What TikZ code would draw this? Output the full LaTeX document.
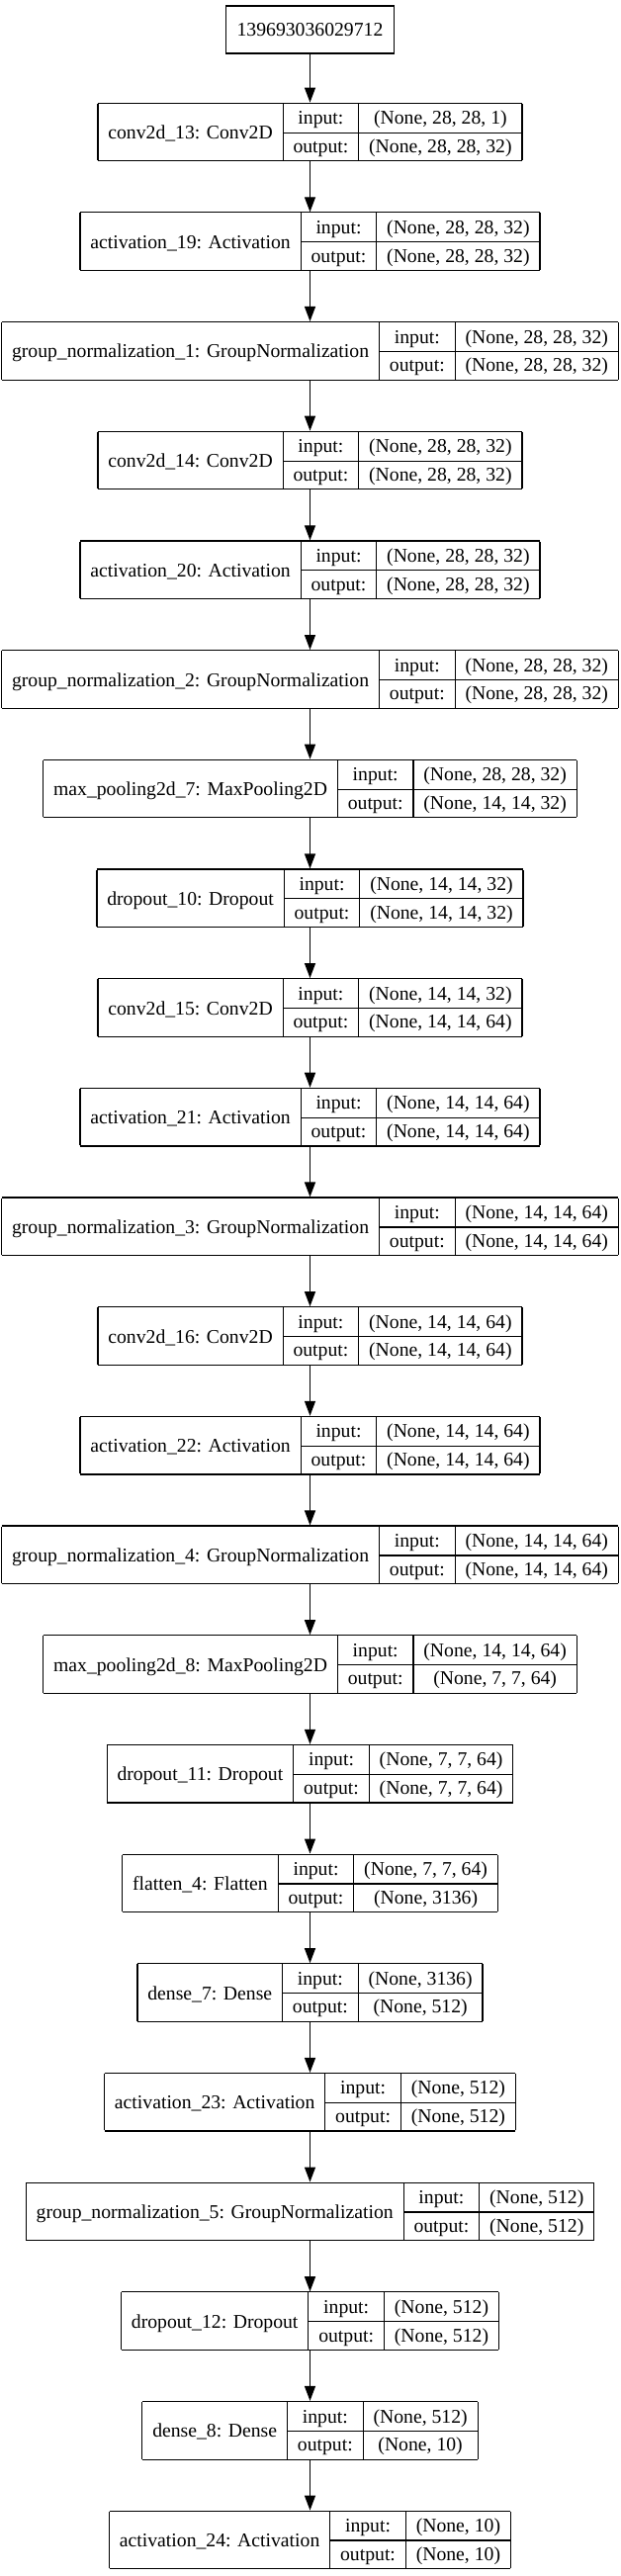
\documentclass[tikz,border=0pt]{standalone}
\usepackage{fontspec}
\setmainfont{Liberation Serif}
\usetikzlibrary{arrows.meta}
\newcommand\lfont{\fontsize{19.7pt}{23pt}\selectfont}
\newcommand\rowstrut{\rule[-7.8pt]{0pt}{28.7pt}}
\newcommand\krec[3]{%
  \setlength\arrayrulewidth{1.2pt}\setlength\tabcolsep{10.4pt}\renewcommand\arraystretch{0.5}%
  \begin{tabular}{|c|c|c|}\hline
    \smash{\raisebox{-14.9pt}{#1}}\rowstrut & input: & #2\\ \cline{2-3}
    \rowstrut & output: & #3\\ \hline
  \end{tabular}}
\newcommand\yp[1]{{-(133.5+110.68*(#1-1))*1pt}}
\tikzset{
  rec/.style={inner sep=0pt, outer sep=0pt, font=\lfont, text=black},
  inbox/.style={draw=black, line width=1.2pt, inner xsep=11pt, inner ysep=0pt, minimum height=48pt, font=\lfont, text=black},
  arr/.style={draw=black, line width=1.3pt, -{Triangle[length=15pt,width=11pt]}}
}
\begin{document}
\begin{tikzpicture}
\useasboundingbox (0,0) rectangle (627pt,-2605pt);
\fill[white] (0,0) rectangle (627pt,-2605pt);
\node[inbox] (inp) at (313.5pt,-30pt) {139693036029712};
\node[rec] (l1) at (313.5pt,\yp{1}) {\krec{conv2d\_13: Conv2D}{(None, 28, 28, 1)}{(None, 28, 28, 32)}};
\node[rec] (l2) at (313.5pt,\yp{2}) {\krec{activation\_19: Activation}{(None, 28, 28, 32)}{(None, 28, 28, 32)}};
\node[rec] (l3) at (313.5pt,\yp{3}) {\krec{group\_normalization\_1: GroupNormalization}{(None, 28, 28, 32)}{(None, 28, 28, 32)}};
\node[rec] (l4) at (313.5pt,\yp{4}) {\krec{conv2d\_14: Conv2D}{(None, 28, 28, 32)}{(None, 28, 28, 32)}};
\node[rec] (l5) at (313.5pt,\yp{5}) {\krec{activation\_20: Activation}{(None, 28, 28, 32)}{(None, 28, 28, 32)}};
\node[rec] (l6) at (313.5pt,\yp{6}) {\krec{group\_normalization\_2: GroupNormalization}{(None, 28, 28, 32)}{(None, 28, 28, 32)}};
\node[rec] (l7) at (313.5pt,\yp{7}) {\krec{max\_pooling2d\_7: MaxPooling2D}{(None, 28, 28, 32)}{(None, 14, 14, 32)}};
\node[rec] (l8) at (313.5pt,\yp{8}) {\krec{dropout\_10: Dropout}{(None, 14, 14, 32)}{(None, 14, 14, 32)}};
\node[rec] (l9) at (313.5pt,\yp{9}) {\krec{conv2d\_15: Conv2D}{(None, 14, 14, 32)}{(None, 14, 14, 64)}};
\node[rec] (l10) at (313.5pt,\yp{10}) {\krec{activation\_21: Activation}{(None, 14, 14, 64)}{(None, 14, 14, 64)}};
\node[rec] (l11) at (313.5pt,\yp{11}) {\krec{group\_normalization\_3: GroupNormalization}{(None, 14, 14, 64)}{(None, 14, 14, 64)}};
\node[rec] (l12) at (313.5pt,\yp{12}) {\krec{conv2d\_16: Conv2D}{(None, 14, 14, 64)}{(None, 14, 14, 64)}};
\node[rec] (l13) at (313.5pt,\yp{13}) {\krec{activation\_22: Activation}{(None, 14, 14, 64)}{(None, 14, 14, 64)}};
\node[rec] (l14) at (313.5pt,\yp{14}) {\krec{group\_normalization\_4: GroupNormalization}{(None, 14, 14, 64)}{(None, 14, 14, 64)}};
\node[rec] (l15) at (313.5pt,\yp{15}) {\krec{max\_pooling2d\_8: MaxPooling2D}{(None, 14, 14, 64)}{(None, 7, 7, 64)}};
\node[rec] (l16) at (313.5pt,\yp{16}) {\krec{dropout\_11: Dropout}{(None, 7, 7, 64)}{(None, 7, 7, 64)}};
\node[rec] (l17) at (313.5pt,\yp{17}) {\krec{flatten\_4: Flatten}{(None, 7, 7, 64)}{(None, 3136)}};
\node[rec] (l18) at (313.5pt,\yp{18}) {\krec{dense\_7: Dense}{(None, 3136)}{(None, 512)}};
\node[rec] (l19) at (313.5pt,\yp{19}) {\krec{activation\_23: Activation}{(None, 512)}{(None, 512)}};
\node[rec] (l20) at (313.5pt,\yp{20}) {\krec{group\_normalization\_5: GroupNormalization}{(None, 512)}{(None, 512)}};
\node[rec] (l21) at (313.5pt,\yp{21}) {\krec{dropout\_12: Dropout}{(None, 512)}{(None, 512)}};
\node[rec] (l22) at (313.5pt,\yp{22}) {\krec{dense\_8: Dense}{(None, 512)}{(None, 10)}};
\node[rec] (l23) at (313.5pt,\yp{23}) {\krec{activation\_24: Activation}{(None, 10)}{(None, 10)}};
\draw[arr] (inp.south) -- (l1.north);
\foreach \a/\b in {1/2,2/3,3/4,4/5,5/6,6/7,7/8,8/9,9/10,10/11,11/12,12/13,13/14,14/15,15/16,16/17,17/18,18/19,19/20,20/21,21/22,22/23}
  \draw[arr] (l\a.south) -- (l\b.north);
\end{tikzpicture}
\end{document}
